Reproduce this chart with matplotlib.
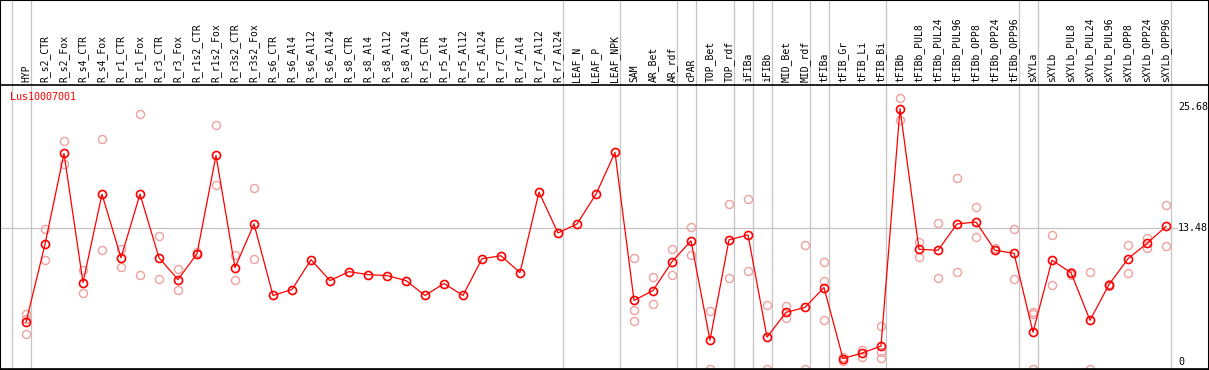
import matplotlib.pyplot as plt
import matplotlib.transforms as mtransforms
from matplotlib.patches import Rectangle
import numpy as np

gene = 'Lus10007001'
samples = ['HYP', 'R_s2_CTR', 'R_s2_Fox', 'R_s4_CTR', 'R_s4_Fox', 'R_r1_CTR', 'R_r1_Fox',
           'R_r3_CTR', 'R_r3_Fox', 'R_r1s2_CTR', 'R_r1s2_Fox', 'R_r3s2_CTR', 'R_r3s2_Fox',
           'R_s6_CTR', 'R_s6_Al4', 'R_s6_Al12', 'R_s6_Al24', 'R_s8_CTR', 'R_s8_Al4',
           'R_s8_Al12', 'R_s8_Al24', 'R_r5_CTR', 'R_r5_Al4', 'R_r5_Al12', 'R_r5_Al24',
           'R_r7_CTR', 'R_r7_Al4', 'R_r7_Al12', 'R_r7_Al24', 'LEAF_N', 'LEAF_P', 'LEAF_NPK',
           'SAM', 'AR_Bet', 'AR_rdf', 'cPAR', 'TOP_Bet', 'TOP_rdf', 'iFIBa', 'iFIBb',
           'MID_Bet', 'MID_rdf', 'tFIBa', 'tFIB_Gr', 'tFIB_Li', 'tFIB_Bi', 'tFIBb',
           'tFIBb_PUL8', 'tFIBb_PUL24', 'tFIBb_PUL96', 'tFIBb_OPP8', 'tFIBb_OPP24',
           'tFIBb_OPP96', 'sXYLa', 'sXYLb', 'sXYLb_PUL8', 'sXYLb_PUL24', 'sXYLb_PUL96',
           'sXYLb_OPP8', 'sXYLb_OPP24', 'sXYLb_OPP96']

# mean expression
means = [4.0, 11.85, 21.0, 8.0, 16.9, 10.5, 16.9, 10.5, 8.3, 10.9, 20.8, 9.5, 13.9,
         6.7, 7.3, 10.3, 8.2, 9.1, 8.8, 8.7, 8.2, 6.7, 7.9, 6.7, 10.4, 10.7, 9.0, 17.1, 13.0,
         13.9, 16.9, 21.1,
         6.2, 7.2, 10.1, 12.2, 2.2, 12.3, 12.8, 2.5, 5.0, 5.5, 7.5, 0.35, 0.9, 1.6, 25.5,
         11.35, 11.25, 13.9, 14.1, 11.25, 10.95,
         3.0, 10.25, 9.0, 4.2, 7.8, 10.4, 11.95, 13.65]

n = np.nan
# replicates
rep_a = [4.8, 13.4, 22.3, 9.3, 22.5, 11.35, 25.0, 12.65, 9.4, 11.05, 23.9, 10.75, 17.5,
         n, n, n, n, n, n, n, n, n, n, n, n, n, n, n, n, n, n, n,
         10.45, 8.6, 11.35, 13.55, 5.1, 15.9, 16.4, 5.7, 5.6, 11.75, 10.05, 0.55, 1.2, 3.6, 26.55,
         12.05, 13.95, 18.5, 15.6, 11.45, 13.35,
         5.0, 12.75, 9.1, 9.1, 7.9, 11.75, 12.45, 15.8]
rep_b = [2.8, 10.25, 19.9, 6.95, 11.25, 9.6, 8.8, 8.4, 7.3, 10.9, 17.8, 8.3, 10.35,
         n, n, n, n, n, n, n, n, n, n, n, n, n, n, n, n, n, n, n,
         5.2, 5.8, 8.8, 10.75, -0.7, 8.5, 9.2, -0.7, 4.4, -0.7, 8.2, 0.15, 0.55, 1.0, 24.35,
         10.55, 8.5, 9.1, 12.55, 11.25, 8.4,
         -0.7, 7.8, 8.8, -0.7, 7.7, 9.0, 11.45, 11.65]
rep_c = [4.3] + [n] * 31 + [4.1] + [n] * 9 + [4.2, n, n, 0.4] + [n] * 7 + [4.85] + [n] * 7

x = np.arange(len(samples))
# vertical separators before these samples (last one closes the table)
group_starts = [0, 1, 29, 32, 35, 36, 38, 39, 40, 42, 43, 46, 53, 54, 61]
y_ticks = [25.68, 13.48, 0]

W, H = 1209, 370
fig = plt.figure(figsize=(W / 100, H / 100), dpi=100)
ax = fig.add_axes([0, 1 / H, 1, 284 / H])
ax.set_xlim(-26 / 19, (W - 26) / 19)
ax.set_ylim(-7 / 9.93, 277 / 9.93)
ax.set_xticks([])
ax.set_yticks([])
for s in ax.spines.values():
    s.set_color('black')
    s.set_linewidth(1.2)

grey = '#c4c4c4'
for g in group_starts:
    ax.axvline(g - 0.75, ymin=0, ymax=369 / 284, color=grey, lw=0.9, clip_on=False, zorder=1)
ax.axhline(13.48, xmin=0, xmax=1177 / W, color=grey, lw=0.9, zorder=1)

pale = '#f0a0a0'
for rep in (rep_a, rep_b, rep_c):
    ax.plot(x, rep, ls='none', marker='o', ms=5.8, mfc='none', mec=pale, mew=1.0, zorder=2)
ax.plot(x, means, color='red', lw=0.9, marker='o', ms=5.8, mfc='none', mec='red',
        mew=1.2, zorder=3)

mono = 'DejaVu Sans Mono'
hdr = mtransforms.blended_transform_factory(ax.transData, ax.transAxes)
for xi, name in zip(x, samples):
    ax.text(xi, 1 + 3 / 284, name, transform=hdr, rotation=90, ha='center', va='bottom',
            fontsize=7, family=mono, clip_on=False)

ax.text(10 / W, 1 - 7 / 284, gene, transform=ax.transAxes, color='red', fontsize=7.2,
        family=mono, ha='left', va='top')
for v in y_ticks:
    ax.text((1178 - 26) / 19, v, str(v), fontsize=7.2, family=mono, ha='left', va='center')

fig.patches.append(Rectangle((0, 0), 1, 1, transform=fig.transFigure, fill=False,
                             ec='black', lw=1.5))
fig.savefig('out.png', dpi=100)
